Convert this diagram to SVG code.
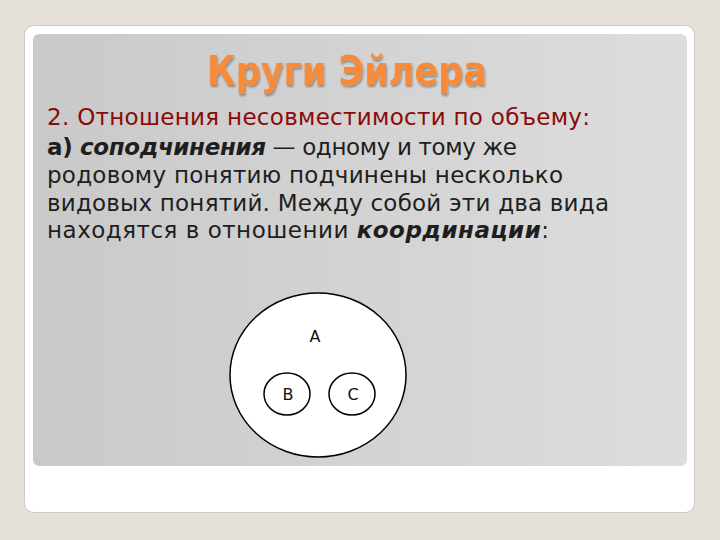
<svg xmlns="http://www.w3.org/2000/svg" width="720" height="540" viewBox="0 0 720 540">
<defs>
<linearGradient id="g" x1="0" y1="0" x2="1" y2="0">
<stop offset="0" stop-color="#c9c9c9"/>
<stop offset="1" stop-color="#dddddd"/>
</linearGradient>
<filter id="sh" x="-10%" y="-20%" width="120%" height="140%">
<feGaussianBlur in="SourceAlpha" stdDeviation="1.2"/>
<feOffset dx="1" dy="1.5" result="b"/>
<feComponentTransfer><feFuncA type="linear" slope="0.35"/></feComponentTransfer>
<feMerge><feMergeNode/><feMergeNode in="SourceGraphic"/></feMerge>
</filter>
<style>
.t{font-family:"DejaVu Sans","Noto Sans",sans-serif;font-size:23px;fill:#1e1e1e}
.r{fill:#8a0a0a}
.b{font-weight:bold}
.bi{font-weight:bold;font-style:italic}
.lbl{font-family:"DejaVu Sans",sans-serif;font-size:16px;fill:#111;text-anchor:middle}
.c{fill:#fff;stroke:#000;stroke-width:1.5}
</style>
</defs>
<rect width="720" height="540" fill="#e5e0d8"/>
<rect x="24.5" y="25.5" width="670" height="487" rx="9" fill="#fff" stroke="#cfc8be"/>
<rect x="33" y="34" width="654" height="432" rx="6" fill="url(#g)"/>
<text x="207" y="85" textLength="280" lengthAdjust="spacingAndGlyphs" font-family="'DejaVu Sans Condensed','DejaVu Sans',sans-serif" font-size="40" font-weight="bold" fill="#f58b3b" filter="url(#sh)">Круги Эйлера</text>
<text class="t r" x="47" y="125" textLength="543" lengthAdjust="spacing">2. Отношения несовместимости по объему:</text>
<text class="t" x="47" y="155" textLength="470" lengthAdjust="spacing"><tspan class="b">а) </tspan><tspan class="bi">соподчинения</tspan> — одному и тому же</text>
<text class="t" x="47" y="183" textLength="516" lengthAdjust="spacing">родовому понятию подчинены несколько</text>
<text class="t" x="47" y="211" textLength="562" lengthAdjust="spacing">видовых понятий. Между собой эти два вида</text>
<text class="t" x="47" y="238" textLength="502" lengthAdjust="spacing">находятся в отношении <tspan class="bi">координации</tspan>:</text>
<g id="A"><ellipse class="c" cx="318" cy="375" rx="88" ry="82"/><text class="lbl" x="315" y="342">A</text></g>
<g id="B"><ellipse class="c" cx="287" cy="394" rx="23" ry="21"/><text class="lbl" x="288" y="400">B</text></g>
<g id="C"><ellipse class="c" cx="352" cy="394" rx="23" ry="21"/><text class="lbl" x="353" y="400">C</text></g>
<g id="connectors"/>
</svg>
